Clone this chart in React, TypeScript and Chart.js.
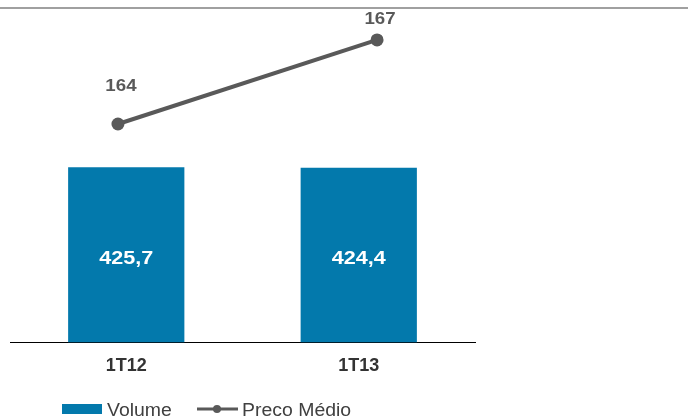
import React, { useEffect, useRef } from 'react';
import { Chart, registerables } from 'chart.js';

Chart.register(...registerables);

const categories = ['1T12', '1T13'];
const volumeValues = [425.7, 424.4];
const volumeLabels = ['425,7', '424,4'];
const precoValues = [164, 167];
const precoLabels = ['164', '167'];
const seriesNames = ['Volume', 'Preco Médio'];

const FONT = '"Liberation Sans", Arial, sans-serif';
const BLUE = '#0379AC';
const GRAY = '#595959';

function drawText(ctx: CanvasRenderingContext2D, text: string, x: number, y: number, font: string, color: string, sx: number, align: CanvasTextAlign = 'center') {
  ctx.save();
  ctx.font = font;
  ctx.fillStyle = color;
  ctx.textAlign = align;
  ctx.textBaseline = 'middle';
  ctx.translate(x, y);
  ctx.scale(sx, 1);
  ctx.fillText(text, 0, 0);
  ctx.restore();
}

const lineLabelOffsets = [38, 21];

const decorPlugin = {
  id: 'decor',
  beforeDraw(chart: any) {
    const ctx = chart.ctx;
    ctx.save();
    ctx.strokeStyle = '#A0A0A0';
    ctx.lineWidth = 2;
    ctx.beginPath();
    ctx.moveTo(0, 8);
    ctx.lineTo(chart.width, 8);
    ctx.stroke();
    ctx.restore();
  },
  afterDatasetsDraw(chart: any) {
    const ctx = chart.ctx;
    const barMeta = chart.getDatasetMeta(0);
    barMeta.data.forEach((el: any, i: number) => {
      const cy = (el.y + el.base) / 2 + 4;
      drawText(ctx, volumeLabels[i], el.x, cy, `bold 18px ${FONT}`, '#FFFFFF', 1.2);
    });
    const lineMeta = chart.getDatasetMeta(1);
    lineMeta.data.forEach((el: any, i: number) => {
      drawText(ctx, precoLabels[i], el.x + 3, el.y - lineLabelOffsets[i], `bold 17px ${FONT}`, GRAY, 1.1);
    });
  },
  afterDraw(chart: any) {
    const ctx = chart.ctx;
    const y = 409;
    ctx.save();
    ctx.fillStyle = BLUE;
    ctx.fillRect(62, 404, 40, 10);
    ctx.restore();
    drawText(ctx, seriesNames[0], 107, y + 2, `18px ${FONT}`, '#404040', 1.08, 'left');
    ctx.save();
    ctx.strokeStyle = GRAY;
    ctx.lineWidth = 3;
    ctx.beginPath();
    ctx.moveTo(197, y);
    ctx.lineTo(238, y);
    ctx.stroke();
    ctx.fillStyle = GRAY;
    ctx.beginPath();
    ctx.arc(217, y, 4, 0, Math.PI * 2);
    ctx.fill();
    ctx.restore();
    drawText(ctx, seriesNames[1], 242, y + 2, `18px ${FONT}`, '#404040', 1.08, 'left');
  },
};

export default function App() {
  const ref = useRef<HTMLCanvasElement>(null);
  useEffect(() => {
    if (!ref.current) return;
    const chart = new Chart(ref.current, {
      type: 'bar',
      data: {
        labels: categories,
        datasets: [
          {
            type: 'bar',
            label: seriesNames[0],
            data: volumeValues,
            backgroundColor: BLUE,
            borderWidth: 0,
            barPercentage: 1,
            categoryPercentage: 0.5,
            grouped: false,
            xAxisID: 'x',
            yAxisID: 'y',
            order: 2,
          } as any,
          {
            type: 'line',
            label: seriesNames[1],
            data: precoValues.map((v, i) => ({ x: i, y: v })),
            borderColor: GRAY,
            backgroundColor: GRAY,
            borderWidth: 4,
            pointRadius: 6.5,
            pointHoverRadius: 6.5,
            pointBackgroundColor: GRAY,
            pointBorderWidth: 0,
            fill: false,
            tension: 0,
            xAxisID: 'x2',
            yAxisID: 'y2',
            order: 1,
          } as any,
        ],
      },
      options: {
        responsive: false,
        animation: false,
        layout: { padding: { left: 10, right: 213, top: 10, bottom: 30 } },
        plugins: {
          legend: { display: false },
          tooltip: { enabled: false },
        },
        scales: {
          x: {
            type: 'category',
            grid: { display: false, drawTicks: false },
            border: { display: true, color: '#000000', width: 1 },
            ticks: { font: { family: FONT, size: 18, weight: 'bold' }, color: '#333333', padding: 13 },
          },
          x2: { type: 'linear', display: false, offset: false, bounds: 'data', min: -0.4167, max: 1.378 },
          y: { display: false, min: 0, max: 808 },
          y2: { display: false, offset: false, bounds: 'data', min: 156.2, max: 168.07 },
        },
      } as any,
      plugins: [decorPlugin],
    });
    return () => chart.destroy();
  }, []);
  return (
    <div style={{ position: 'fixed', left: 0, top: 0, width: 688, height: 420, background: '#fff' }}>
      <canvas ref={ref} width={688} height={420} style={{ width: 688, height: 420, display: 'block' }} />
    </div>
  );
}
